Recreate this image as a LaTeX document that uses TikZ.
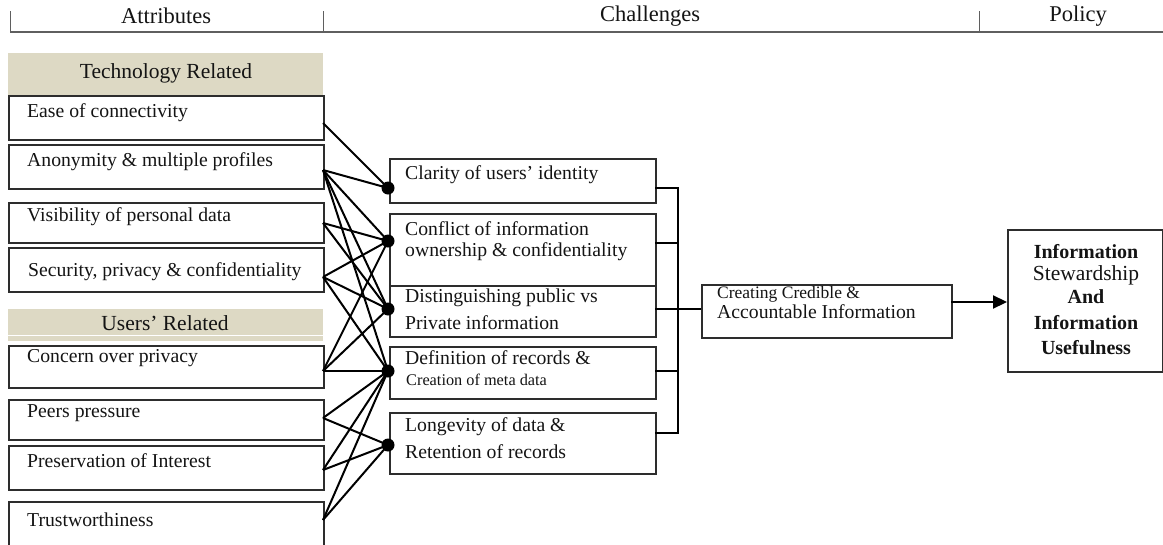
\documentclass[tikz,border=0pt]{standalone}
\usepackage{fontspec}
\setmainfont{Liberation Serif}
\usetikzlibrary{arrows.meta}
\definecolor{band}{RGB}{221,217,196}
\definecolor{edge}{RGB}{45,45,45}
\definecolor{hdr}{RGB}{95,95,95}
\definecolor{ink}{RGB}{20,20,20}
\begin{document}
\begin{tikzpicture}[x=1pt,y=-1pt,
  box/.style={draw=edge, line width=1.5pt, fill=white, inner sep=0pt, anchor=north west},
  bandbox/.style={fill=band, draw=none, inner sep=0pt, anchor=north west},
  txt/.style={anchor=west, inner sep=0pt, text=ink, font=\fontsize{19.7}{22}\selectfont},
  smalltxt/.style={anchor=west, inner sep=0pt, text=ink, font=\fontsize{16.3}{18}\selectfont},
  headtxt/.style={inner sep=0pt, text=ink, font=\fontsize{22.5}{24}\selectfont},
  bandtxt/.style={inner sep=0pt, text=ink, font=\fontsize{21.5}{24}\selectfont},
  poltxt/.style={inner sep=0pt, text=ink, font=\fontsize{20}{22}\selectfont\bfseries},
  link/.style={line width=2pt, black},
  bracket/.style={line width=1.5pt, black},
  dot/.style={circle, fill=black, inner sep=0pt, minimum size=13pt}]
\useasboundingbox (0,0) rectangle (1163,544);
\fill[white] (0,0) rectangle (1163,544);

% ---------------- header ----------------
\coordinate (hL) at (10,32);
\coordinate (hR) at (1163,32);
\coordinate (t1a) at (10,11);
\coordinate (t1b) at (10,32);
\coordinate (t2a) at (323,11);
\coordinate (t2b) at (323,32);
\coordinate (t3a) at (979,11);
\coordinate (t3b) at (979,32);
\draw[hdr, line width=1.5pt] (hL) -- (hR);
\draw[hdr, line width=1pt] (t1a) -- (t1b);
\draw[hdr, line width=1pt] (t2a) -- (t2b);
\draw[hdr, line width=1pt] (t3a) -- (t3b);
\node[headtxt] (hAttr) at (166,16) {Attributes};
\node[headtxt] (hChal) at (650,16) {Challenges};
\node[headtxt] (hPol) at (1078,16) {Policy};

% ---------------- left column ----------------
\node[bandbox, minimum width=315pt, minimum height=42pt] (techband) at (8,53) {};
\node[bandtxt] (techtxt) at (166,73) {Technology Related};

\node[box, minimum width=315pt, minimum height=44pt] (ease) at (8,95) {};
\node[txt] (easet) at (27,113) {Ease of connectivity};
\node[box, minimum width=315pt, minimum height=44pt] (anon) at (8,144) {};
\node[txt] (anont) at (27,162) {Anonymity \& multiple profiles};
\node[box, minimum width=315pt, minimum height=40pt] (vis) at (8,202) {};
\node[txt] (vist) at (27,217) {Visibility of personal data};
\node[box, minimum width=315pt, minimum height=44pt] (sec) at (8,247) {};
\node[txt] (sect) at (28,272) {Security, privacy \& confidentiality};

\node[bandbox, minimum width=315pt, minimum height=32pt] (userband) at (8,309) {};
\coordinate (wl1) at (8,335.5);
\coordinate (wl2) at (323,335.5);
\draw[white, line width=1pt] (wl1) -- (wl2);
\node[bandtxt] (usertxt) at (165,323) {Users’ Related};

\node[box, minimum width=315pt, minimum height=42pt] (concern) at (8,345) {};
\node[txt] (concernt) at (27,358) {Concern over privacy};
\node[box, minimum width=315pt, minimum height=40pt] (peers) at (8,399) {};
\node[txt] (peerst) at (27,413) {Peers pressure};
\node[box, minimum width=315pt, minimum height=44pt] (pres) at (8,445) {};
\node[txt] (prest) at (27,461) {Preservation of Interest};
\node[box, minimum width=315pt, minimum height=50pt] (trust) at (8,501) {};
\node[txt] (trustt) at (27,520) {Trustworthiness};

% ---------------- middle column ----------------
\node[box, minimum width=266pt, minimum height=44pt] (clar) at (389,158) {};
\node[txt] (clart) at (405,175) {Clarity of users’ identity};
\node[box, minimum width=266pt, minimum height=72pt] (conf) at (389,213) {};
\node[txt] (conft1) at (405,229) {Conflict of information};
\node[txt] (conft2) at (405,252) {ownership \& confidentiality};
\node[box, minimum width=266pt, minimum height=51pt] (dist) at (389,285) {};
\node[txt] (distt1) at (405,298) {Distinguishing public vs};
\node[txt] (distt2) at (405,323) {Private information};
\node[box, minimum width=266pt, minimum height=52pt] (defn) at (389,346) {};
\node[txt] (defnt1) at (405,358) {Definition of records \&};
\node[smalltxt] (defnt2) at (406,380) {Creation of meta data};
\node[box, minimum width=266pt, minimum height=61pt] (longv) at (389,412) {};
\node[txt] (longt1) at (405,427) {Longevity of data \&};
\node[txt] (longt2) at (405,452) {Retention of records};

% ---------------- right part ----------------
\node[box, minimum width=250pt, minimum height=53pt] (cred) at (701,284) {};
\node[anchor=west, inner sep=0pt, text=ink, font=\fontsize{17.5}{20}\selectfont] (credt1) at (717,294) {Creating Credible \&};
\node[txt] (credt2) at (717,312) {Accountable Information};

\node[box, minimum width=155pt, minimum height=142pt] (pol) at (1007,229) {};
\node[poltxt] (polt1) at (1086,252) {Information};
\node[inner sep=0pt, text=ink, font=\fontsize{21.5}{24}\selectfont] (polt2) at (1086,275) {Stewardship};
\node[poltxt] (polt3) at (1086,297) {And};
\node[poltxt] (polt4) at (1086,323) {Information};
\node[poltxt] (polt5) at (1086,348) {Usefulness};

% ---------------- bracket ----------------
\coordinate (b1) at (655,188);
\coordinate (b2) at (655,243);
\coordinate (b3) at (655,309);
\coordinate (b4) at (655,371);
\coordinate (b5) at (655,433);
\coordinate (bt) at (678,188);
\coordinate (bb) at (678,433);
\coordinate (b2r) at (678,243);
\coordinate (b4r) at (678,371);
\coordinate (credin) at (701,309);
\draw[bracket] (b1) -- (bt) -- (bb) -- (b5);
\draw[bracket] (b2) -- (b2r);
\draw[bracket] (b4) -- (b4r);
\draw[bracket] (b3) -- (credin);

\coordinate (credout) at (951,302);
\coordinate (polin) at (1007,302);
\draw[line width=2.2pt, -{Triangle[length=14pt,width=13pt]}] (credout) -- (polin);

% ---------------- connectors ----------------
\coordinate (pE) at (323,123);
\coordinate (pA) at (323,170);
\coordinate (pV) at (323,223);
\coordinate (pS) at (323,277);
\coordinate (pC) at (323,371);
\coordinate (pP) at (323,418);
\coordinate (pR) at (323,470);
\coordinate (pT) at (323,520);
\coordinate (d1) at (388,188);
\coordinate (d2) at (388,241);
\coordinate (d3) at (388,309);
\coordinate (d4) at (388,371);
\coordinate (d5) at (388,445);

\draw[link] (pE) -- (d1);
\draw[link] (pA) -- (d1);
\draw[link] (pA) -- (d2);
\draw[link] (pA) -- (d3);
\draw[link] (pA) -- (d4);
\draw[link] (pV) -- (d2);
\draw[link] (pV) -- (d3);
\draw[link] (pS) -- (d2);
\draw[link] (pS) -- (d3);
\draw[link] (pS) -- (d4);
\draw[link] (pC) -- (d2);
\draw[link] (pC) -- (d3);
\draw[link] (pC) -- (d4);
\draw[link] (pP) -- (d4);
\draw[link] (pP) -- (d5);
\draw[link] (pR) -- (d4);
\draw[link] (pR) -- (d5);
\draw[link] (pT) -- (d4);
\draw[link] (pT) -- (d5);

\node[dot] (dot1) at (d1) {};
\node[dot] (dot2) at (d2) {};
\node[dot] (dot3) at (d3) {};
\node[dot] (dot4) at (d4) {};
\node[dot] (dot5) at (d5) {};
\end{tikzpicture}
\end{document}
